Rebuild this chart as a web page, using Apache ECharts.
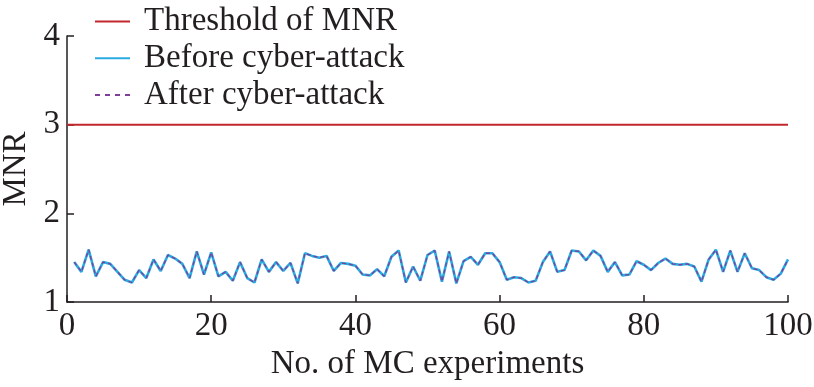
<!DOCTYPE html>
<html>
<head>
<meta charset="utf-8">
<script src="https://cdn.jsdelivr.net/npm/echarts@6/dist/echarts.min.js"></script>
<style>html,body{margin:0;padding:0;background:#fff;}#c{width:814px;height:387px;}</style>
</head>
<body>
<div id="c"></div>
<script>
var experiments = [];
for (var i = 1; i <= 100; i++) experiments.push(i);
var thresholdX = [0, 100];
var thresholdY = [3, 3];
var beforeAttack = [1.45,1.34,1.59,1.29,1.45,1.43,1.34,1.25,1.22,1.36,
  1.27,1.48,1.35,1.53,1.49,1.43,1.27,1.57,1.31,1.56,
  1.29,1.34,1.24,1.45,1.27,1.22,1.48,1.34,1.45,1.35,
  1.44,1.21,1.55,1.52,1.50,1.52,1.35,1.44,1.43,1.41,
  1.31,1.30,1.37,1.29,1.51,1.58,1.22,1.40,1.24,1.53,
  1.58,1.23,1.57,1.21,1.46,1.51,1.42,1.55,1.55,1.45,
  1.25,1.28,1.27,1.22,1.24,1.45,1.57,1.34,1.36,1.58,
  1.57,1.47,1.58,1.52,1.34,1.45,1.30,1.31,1.46,1.42,
  1.36,1.44,1.49,1.43,1.42,1.43,1.40,1.23,1.48,1.59,
  1.34,1.58,1.34,1.55,1.38,1.36,1.28,1.25,1.32,1.48];
var afterAttack = [1.45,1.34,1.59,1.29,1.45,1.43,1.34,1.25,1.22,1.36,
  1.27,1.48,1.35,1.53,1.49,1.43,1.27,1.57,1.31,1.56,
  1.29,1.34,1.24,1.45,1.27,1.22,1.48,1.34,1.45,1.35,
  1.44,1.21,1.55,1.52,1.50,1.52,1.35,1.44,1.43,1.41,
  1.31,1.30,1.37,1.29,1.51,1.58,1.22,1.40,1.24,1.53,
  1.58,1.23,1.57,1.21,1.46,1.51,1.42,1.55,1.55,1.45,
  1.25,1.28,1.27,1.22,1.24,1.45,1.57,1.34,1.36,1.58,
  1.57,1.47,1.58,1.52,1.34,1.45,1.30,1.31,1.46,1.42,
  1.36,1.44,1.49,1.43,1.42,1.43,1.40,1.23,1.48,1.59,
  1.34,1.58,1.34,1.55,1.38,1.36,1.28,1.25,1.32,1.48];
var xTicks = [0, 20, 40, 60, 80, 100];
var yTicks = [1, 2, 3, 4];

function pairs(xs, ys) { return xs.map(function (x, i) { return [x, ys[i]]; }); }

var solidIcon = 'path://M0,0H35V2H0Z';
var dashIcon = 'path://M0,0H5V2H0Z M10,0H15V2H10Z M20,0H25V2H20Z M30,0H35V2H30Z';

var font = 'Liberation Serif';
var fs = 33;
var chart = echarts.init(document.getElementById('c'));
chart.setOption({
  animation: false,
  backgroundColor: '#fff',
  grid: { left: 67, right: 26, top: 36, bottom: 85, containLabel: false, outerBoundsMode: 'none' },
  legend: {
    orient: 'vertical', left: 90, top: 0, itemGap: 3.7,
    itemWidth: 35, itemHeight: 2,
    textStyle: { fontFamily: font, fontSize: fs, lineHeight: 33, color: '#231f20', padding: [0, 0, 0, 9] },
    data: [
      { name: 'Threshold of MNR', icon: solidIcon },
      { name: 'Before cyber-attack', icon: solidIcon },
      { name: 'After cyber-attack', icon: dashIcon }
    ]
  },
  xAxis: {
    type: 'value', min: xTicks[0], max: xTicks[xTicks.length - 1], interval: 20,
    name: 'No. of MC experiments', nameLocation: 'middle', nameGap: 42,
    nameTextStyle: { fontFamily: font, fontSize: fs, color: '#231f20' },
    axisLine: { lineStyle: { color: '#231f20', width: 1.5 } },
    axisTick: { inside: true, length: 7, lineStyle: { color: '#231f20', width: 1.5 } },
    axisLabel: { fontFamily: font, fontSize: fs, color: '#231f20', margin: 8 },
    splitLine: { show: false }
  },
  yAxis: {
    type: 'value', min: yTicks[0], max: yTicks[yTicks.length - 1], interval: 1,
    name: 'MNR', nameLocation: 'middle', nameGap: 32, nameRotate: 90,
    nameTextStyle: { fontFamily: font, fontSize: fs, color: '#231f20' },
    axisLine: { show: true, lineStyle: { color: '#231f20', width: 1.5 } },
    axisTick: { show: true, inside: true, length: 7, lineStyle: { color: '#231f20', width: 1.5 } },
    axisLabel: { fontFamily: font, fontSize: fs, color: '#231f20', margin: 7 },
    splitLine: { show: false }
  },
  series: [
    { name: 'Threshold of MNR', type: 'line', symbol: 'none', color: '#c1272d',
      lineStyle: { color: '#c1272d', width: 2 }, data: pairs(thresholdX, thresholdY) },
    { name: 'Before cyber-attack', type: 'line', symbol: 'none', color: '#29abe2',
      lineStyle: { color: '#29abe2', width: 2.6 }, data: pairs(experiments, beforeAttack) },
    { name: 'After cyber-attack', type: 'line', symbol: 'none', color: '#7e3f98',
      lineStyle: { color: '#7e3f98', width: 1.3, type: [4, 3] }, data: pairs(experiments, afterAttack) }
  ]
});
</script>
</body>
</html>
